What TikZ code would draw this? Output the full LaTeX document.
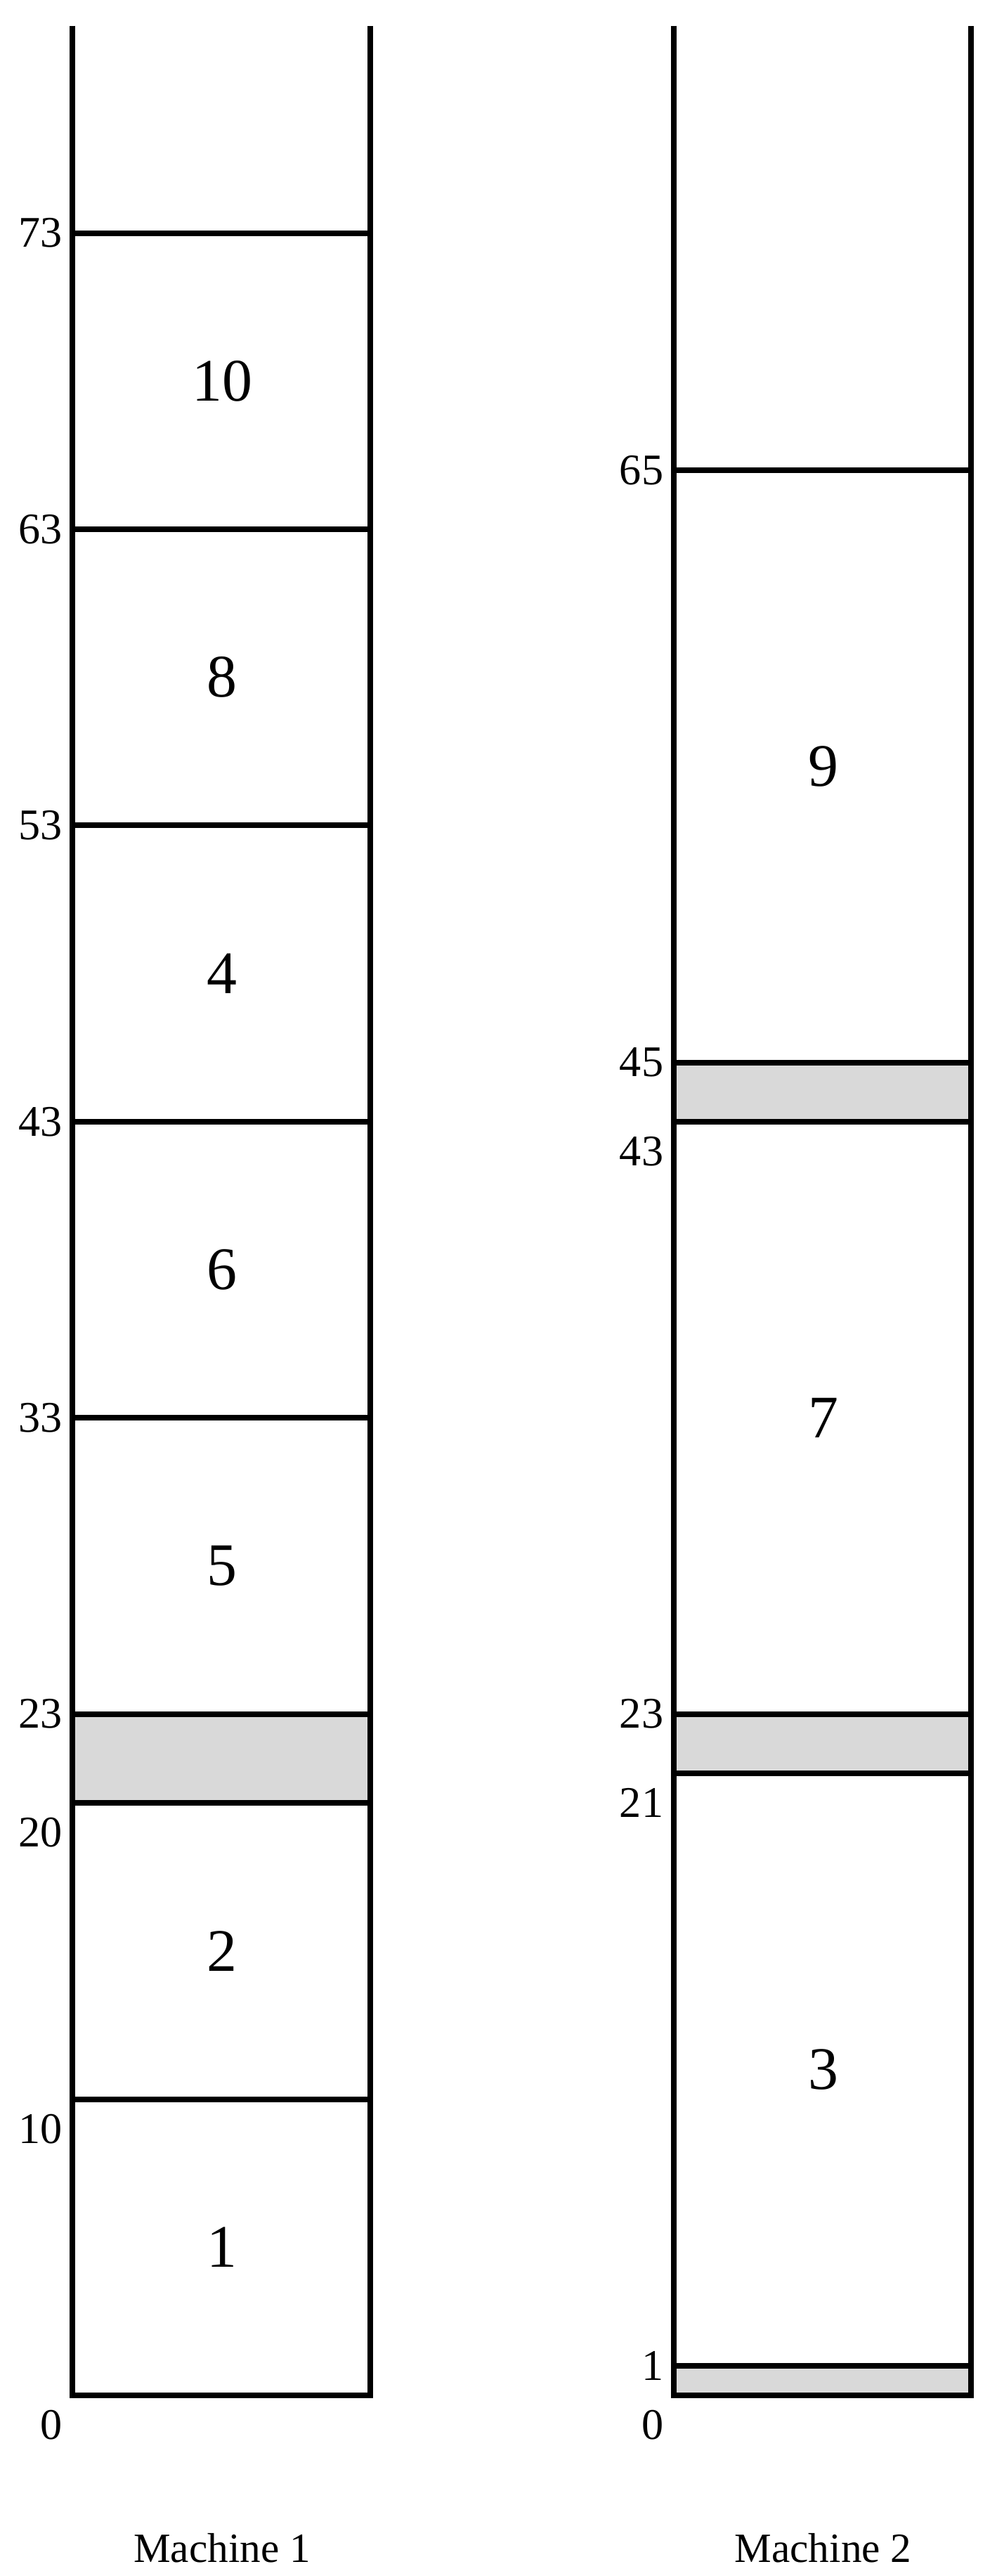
\documentclass[tikz,border=0pt]{standalone}
\usepackage{fontspec}
\setmainfont{Liberation Serif}

\tikzset{
  jobnum/.style={font=\fontsize{14.5}{17}\selectfont},
  timenum/.style={font=\fontsize{10.5}{12}\selectfont,anchor=east,inner sep=0pt},
  idle/.style={fill=black!15},
}

\begin{document}
\begin{tikzpicture}[x=0.25cm,y=0.25cm,line width=1.35pt]
            \useasboundingbox (0,-6.1) rectangle (33.67,80.87);

            % idle time
            \fill[idle] (2.45,20) rectangle (12.5,23);
            \fill[idle] (22.75,43) rectangle (32.8,45);
            \fill[idle] (22.75,21) rectangle (32.8,23);
            \fill[idle] (22.75,0) rectangle (32.8,1);

            % machine 1
            \draw (2.45,80) -- (2.45,0) -- (12.5,0) -- (12.5,80);
            \draw (2.45,10) -- (12.5,10);
            \draw (2.45,20) -- (12.5,20);
            \draw (2.45,23) -- (12.5,23);
            \draw (2.45,33) -- (12.5,33);
            \draw (2.45,43) -- (12.5,43);
            \draw (2.45,53) -- (12.5,53);
            \draw (2.45,63) -- (12.5,63);
            \draw (2.45,73) -- (12.5,73);

            % machine 2
            \draw (22.75,80) -- (22.75,0) -- (32.8,0) -- (32.8,80);
            \draw (22.75,1) -- (32.8,1);
            \draw (22.75,21) -- (32.8,21);
            \draw (22.75,23) -- (32.8,23);
            \draw (22.75,43) -- (32.8,43);
            \draw (22.75,45) -- (32.8,45);
            \draw (22.75,65) -- (32.8,65);

            % jobs
            \node[jobnum] (j1) at (7.5,5) {1};
            \node[jobnum] (j2) at (7.5,15) {2};
            \node[jobnum] (j5) at (7.5,28) {5};
            \node[jobnum] (j6) at (7.5,38) {6};
            \node[jobnum] (j4) at (7.5,48) {4};
            \node[jobnum] (j8) at (7.5,58) {8};
            \node[jobnum] (j10) at (7.5,68) {10};
            \node[jobnum] (j3) at (27.8,11) {3};
            \node[jobnum] (j7) at (27.8,33) {7};
            \node[jobnum] (j9) at (27.8,55) {9};

            % times, machine 1
            \node[timenum] (ta0) at (2.2,-1) {0};
            \node[timenum] (ta10) at (2.2,9) {10};
            \node[timenum] (ta20) at (2.2,19) {20};
            \node[timenum] (ta23) at (2.2,23) {23};
            \node[timenum] (ta33) at (2.2,33) {33};
            \node[timenum] (ta43) at (2.2,43) {43};
            \node[timenum] (ta53) at (2.2,53) {53};
            \node[timenum] (ta63) at (2.2,63) {63};
            \node[timenum] (ta73) at (2.2,73) {73};

            % times, machine 2
            \node[timenum] (tb0) at (22.5,-1) {0};
            \node[timenum] (tb1) at (22.5,1) {1};
            \node[timenum] (tb21) at (22.5,20) {21};
            \node[timenum] (tb23) at (22.5,23) {23};
            \node[timenum] (tb43) at (22.5,42) {43};
            \node[timenum] (tb45) at (22.5,45) {45};
            \node[timenum] (tb65) at (22.5,65) {65};

            % machine names
            \node[font=\fontsize{10}{12}\selectfont] (m1) at (7.5,-5.15) {Machine 1};
            \node[font=\fontsize{10}{12}\selectfont] (m2) at (27.8,-5.15) {Machine 2};
        \end{tikzpicture}
\end{document}
